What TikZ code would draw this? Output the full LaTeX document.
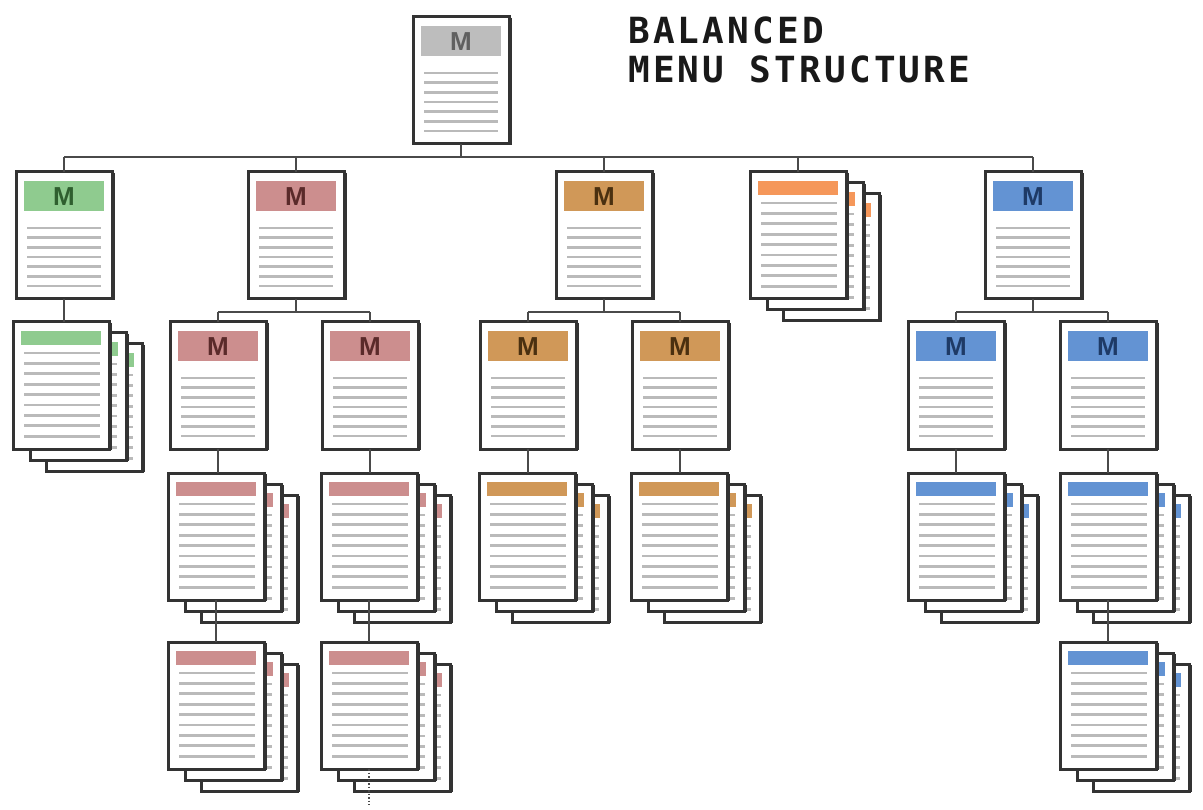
\documentclass[tikz,border=0pt]{standalone}
\usepackage{fontspec}
\newfontfamily\titlefont{DejaVu Sans Mono}[LetterSpace=9.0]
\newfontfamily\mfont{Liberation Sans}
\definecolor{hgreen}{HTML}{8FCB8F}
\definecolor{mgreen}{HTML}{2F5F2F}
\definecolor{hred}{HTML}{CC8E8E}
\definecolor{mred}{HTML}{5A2A2A}
\definecolor{hbrown}{HTML}{D09858}
\definecolor{mbrown}{HTML}{4A3010}
\definecolor{horange}{HTML}{F5975A}
\definecolor{hblue}{HTML}{6393D3}
\definecolor{mblue}{HTML}{1E3A66}
\definecolor{hgray}{HTML}{BDBDBD}
\definecolor{mgray}{HTML}{606060}
\definecolor{framec}{HTML}{333333}
\definecolor{txtline}{HTML}{BABABA}
\definecolor{connc}{HTML}{4A4A4A}
\tikzset{
  pagebox/.style={draw=framec, line width=3pt, fill=white, minimum width=96pt,
    minimum height=127pt, inner sep=0pt, outer sep=0pt, anchor=north west},
  mletter/.style={font=\mfont\bfseries\fontsize{26}{26}\selectfont, inner sep=0pt},
  menuline/.style={draw=txtline, line width=2.6pt},
  leafline/.style={draw=txtline, line width=2.8pt},
  edge/.style={draw=framec, line width=1.5pt},
  conn/.style={draw=connc, line width=2.5pt},
  titletext/.style={font=\titlefont\bfseries\fontsize{36}{36}\selectfont, inner sep=0pt, anchor=base west, text=black!90}
}
\newcommand{\menupg}[5]{%
  \node[pagebox] (#1) at (#2,#3) {};
  \draw[edge] ({#2+98},{#3+1}) -- ({#2+98},{#3+128});
  \fill[#4] ({#2+8},{#3+9}) rectangle ({#2+88},{#3+39});
  \node[mletter, text=#5] (#1m) at ({#2+48},{#3+25}) {M};
  \foreach \k in {0,...,6} {\draw[menuline] ({#2+11},{#3+56+\k*9.7}) -- ({#2+85},{#3+56+\k*9.7});}
}
\newcommand{\leafpg}[4]{%
  \node[pagebox] (#1) at (#2,#3) {};
  \draw[edge] ({#2+98},{#3+1}) -- ({#2+98},{#3+128});
  \fill[#4] ({#2+8},{#3+9}) rectangle ({#2+88},{#3+23});
  \foreach \k in {0,...,8} {\draw[leafline] ({#2+11},{#3+31+\k*10.4}) -- ({#2+87},{#3+31+\k*10.4});}
}
\newcommand{\stackpg}[4]{%
  \leafpg{#1c}{#2+33}{#3+22}{#4}
  \leafpg{#1b}{#2+17}{#3+11}{#4}
  \leafpg{#1}{#2}{#3}{#4}
}
\begin{document}
\begin{tikzpicture}[x=1pt,y=-1pt]
\fill[white] (0,0) rectangle (1203,810);
\useasboundingbox (0,0) rectangle (1203,810);

\node[titletext] (t1) at (628,44) {BALANCED};
\node[titletext] (t2) at (628,83) {MENU STRUCTURE};

\menupg{root}{413}{17}{hgray}{mgray}
\menupg{g1}{16}{172}{hgreen}{mgreen}
\menupg{r1}{248}{172}{hred}{mred}
\menupg{b1}{556}{172}{hbrown}{mbrown}
\stackpg{o1}{750}{172}{horange}
\menupg{u1}{985}{172}{hblue}{mblue}

\stackpg{g2}{13}{322}{hgreen}
\menupg{r2a}{170}{322}{hred}{mred}
\menupg{r2b}{322}{322}{hred}{mred}
\menupg{b2a}{480}{322}{hbrown}{mbrown}
\menupg{b2b}{632}{322}{hbrown}{mbrown}
\menupg{u2a}{908}{322}{hblue}{mblue}
\menupg{u2b}{1060}{322}{hblue}{mblue}

\stackpg{r3a}{168}{473}{hred}
\stackpg{r3b}{321}{473}{hred}
\stackpg{b3a}{479}{473}{hbrown}
\stackpg{b3b}{631}{473}{hbrown}
\stackpg{u3a}{908}{473}{hblue}
\stackpg{u3b}{1060}{473}{hblue}

\stackpg{r4a}{168}{642}{hred}
\stackpg{r4b}{321}{642}{hred}
\stackpg{u4b}{1060}{642}{hblue}

% connectors
\coordinate (bus) at (462,157);
\coordinate (lev2) at (0,312);
\coordinate (tail) at (0,805);
\draw[conn] (root.south) -- (root.south |- bus);
\draw[conn] (g1.north |- bus) -- (u1.north |- bus);
\foreach \n in {g1,r1,b1,o1,u1} {\draw[conn] (\n.north) -- (\n.north |- bus);}

\draw[conn] (g1.south) -- (g1.south |- g2.north);

\draw[conn] (r1.south) -- (r1.south |- lev2);
\draw[conn] (r2a.north |- lev2) -- (r2b.north |- lev2);
\draw[conn] (b1.south) -- (b1.south |- lev2);
\draw[conn] (b2a.north |- lev2) -- (b2b.north |- lev2);
\draw[conn] (u1.south) -- (u1.south |- lev2);
\draw[conn] (u2a.north |- lev2) -- (u2b.north |- lev2);
\foreach \n in {r2a,r2b,b2a,b2b,u2a,u2b} {\draw[conn] (\n.north) -- (\n.north |- lev2);}

\draw[conn] (r2a.south) -- (r2a.south |- r3a.north);
\draw[conn] (r2b.south) -- (r2b.south |- r3b.north);
\draw[conn] (b2a.south) -- (b2a.south |- b3a.north);
\draw[conn] (b2b.south) -- (b2b.south |- b3b.north);
\draw[conn] (u2a.south) -- (u2a.south |- u3a.north);
\draw[conn] (u2b.south) -- (u2b.south |- u3b.north);

\draw[conn] (r3a.south) -- (r3a.south |- r4a.north);
\draw[conn] (r3b.south) -- (r3b.south |- r4b.north);
\draw[conn] (u3b.south) -- (u3b.south |- u4b.north);
\draw[conn, line width=1.5pt, dotted] (r4b.south) -- (r4b.south |- tail);
\end{tikzpicture}
\end{document}
